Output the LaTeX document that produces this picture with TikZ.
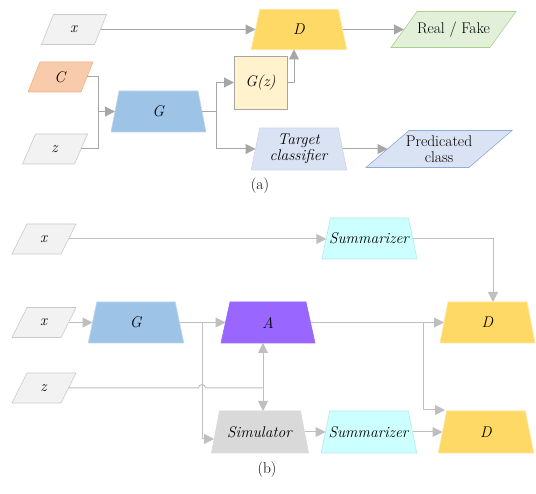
\documentclass[tikz,border=0pt]{standalone}
\usetikzlibrary{arrows.meta,calc}
\definecolor{lna}{HTML}{A6A6A6}
\definecolor{lnb}{HTML}{BFBFBF}
\definecolor{inpf}{HTML}{F2F2F2}
\definecolor{inpd}{HTML}{C8C8C8}
\definecolor{cf}{HTML}{F8CBAD}
\definecolor{cd}{HTML}{F4B183}
\definecolor{gf}{HTML}{9DC3E6}
\definecolor{gd}{HTML}{BDD7EE}
\definecolor{df}{HTML}{FFD966}
\definecolor{dd}{HTML}{FFE699}
\definecolor{gzf}{HTML}{FFF2CC}
\definecolor{rff}{HTML}{E2F0D9}
\definecolor{rfd}{HTML}{A9D18E}
\definecolor{tcf}{HTML}{DAE3F3}
\definecolor{tcd}{HTML}{C9D5EC}
\definecolor{pcd}{HTML}{8FAADC}
\definecolor{af}{HTML}{9966FF}
\definecolor{sumf}{HTML}{CCFFFF}
\definecolor{sumd}{HTML}{B8E8E8}
\definecolor{simf}{HTML}{D9D9D9}
\tikzset{
  base/.style={font=\rmfamily\fontsize{15.5}{16.5}\selectfont, inner sep=0pt, outer sep=0pt},
  shp/.style={line width=0.6pt},
  lnA/.style={draw=lna, line width=1pt},
  lnB/.style={draw=lnb, line width=1pt},
  arrA/.style={lnA, -{Triangle[length=10pt,width=10pt]}},
  arrB/.style={lnB, -{Triangle[length=10pt,width=10pt]}},
}
% #1 name, #2 centre x, #3 centre y, #4 mean width, #5 height, #6 half offset, #7 fill, #8 draw, #9 text
\newcommand\mytrap[9]{%
  \path[shp, fill=#7, draw=#8] ($(#2,#3)+(-#4/2-#6,#5/2)$) -- ($(#2,#3)+(-#4/2+#6,-#5/2)$)
    -- ($(#2,#3)+(#4/2-#6,-#5/2)$) -- ($(#2,#3)+(#4/2+#6,#5/2)$) -- cycle;
  \node[base, minimum width=#4pt, minimum height=#5pt, align=center] (#1) at (#2,#3) {#9};}
% #1 name, #2 centre x, #3 centre y, #4 edge width, #5 height, #6 half slant, #7 fill, #8 draw, #9 text
\newcommand\mypara[9]{%
  \path[shp, fill=#7, draw=#8] ($(#2,#3)+(-#4/2-#6,#5/2)$) -- ($(#2,#3)+(-#4/2+#6,-#5/2)$)
    -- ($(#2,#3)+(#4/2+#6,-#5/2)$) -- ($(#2,#3)+(#4/2-#6,#5/2)$) -- cycle;
  \node[base, minimum width=#4pt, minimum height=#5pt, align=center] (#1) at (#2,#3) {#9};}
\begin{document}
\begin{tikzpicture}[x=1pt,y=-1pt]
\useasboundingbox (0,0) rectangle (536,494);
% ---------- (a) ----------
\mypara{xa}{74}{29.5}{53}{30}{6}{inpf}{inpd}{\textit{x}}
\mypara{Ca}{60.5}{77}{53}{30}{6}{cf}{cd}{\textit{C}}
\mypara{za}{55}{149}{52}{30}{6.5}{inpf}{inpd}{\textit{z}}
\mytrap{Ga}{158.5}{111.5}{87}{41}{4}{gf}{gd}{\textit{G}}
\node[base, draw=lna, line width=0.8pt, fill=gzf, minimum width=53pt, minimum height=53pt] (Gz) at (260.5,82.5) {\textit{G(z)}};
\mytrap{Da}{299}{29.5}{87}{40}{4.25}{df}{dd}{\textit{D}}
\mypara{RF}{453.5}{29.5}{99}{36}{13}{rff}{rfd}{Real / Fake}
\mytrap{TC}{299}{149}{87}{42}{4.25}{tcf}{tcd}{\textit{Target}\\\textit{classifier}}
\mypara{PC}{439}{149}{103}{37}{21.5}{tcf}{pcd}{Predicated\\class}
\node[base] (la) at (260,186) {(a)};

\draw[arrA] (xa.east) -- (Da.west);
\coordinate (ja) at (98,111.5);
\draw[lnA] (Ca.east) -| (ja);
\draw[lnA] (za.east) -| (ja);
\draw[arrA] (ja) -- (Ga.west);
\coordinate (jb) at (216,111.5);
\draw[lnA] (Ga.east) -- (jb);
\draw[arrA] (jb) |- (Gz.west);
\draw[arrA] (jb) |- (TC.west);
\coordinate (jc) at (294,82.5);
\draw[arrA] (Gz.east) -- (jc) -- (jc |- Da.south);
\draw[arrA] (Da.east) -- (RF.west);
\draw[arrA] (TC.east) -- (PC.west);

% ---------- (b) ----------
\mypara{xb1}{44}{239}{49}{30}{7.5}{inpf}{inpd}{\textit{x}}
\mypara{xb2}{44}{322.5}{49}{30}{7.5}{inpf}{inpd}{\textit{x}}
\mypara{zb}{44}{388}{49}{30}{7.5}{inpf}{inpd}{\textit{z}}
\mytrap{S1}{369.5}{238.5}{86.5}{41}{4.25}{sumf}{sumd}{\textit{Summarizer}}
\mytrap{D1}{487.5}{322.5}{87}{41}{4}{df}{dd}{\textit{D}}
\mytrap{Gb}{136}{322.5}{87}{41}{4.25}{gf}{gd}{\textit{G}}
\mytrap{A}{268}{322.5}{85}{41}{4.5}{af}{af}{\textit{A}}
\mytrap{Sim}{260}{432}{89}{42}{4}{simf}{simf}{\textit{Simulator}}
\mytrap{S2}{369}{432}{87}{42}{4.25}{sumf}{sumd}{\textit{Summarizer}}
\mytrap{D2}{486}{432}{87}{42}{4.25}{df}{dd}{\textit{D}}
\node[base] (lb) at (267,470) {(b)};

\draw[arrB] (xb1.east) -- (xb1.east -| S1.west);
\coordinate (k1) at (493,238.5);
\draw[arrB] (S1.east) -- (k1) -- (k1 |- D1.north);
\draw[arrB] (xb2.east) -- (Gb.west);
\draw[arrB] (Gb.east) -- (A.west);
\coordinate (k2) at (202,322.5);
\coordinate (simin) at ($(Sim.west)+(-1.5,7)$);
\draw[arrB] (k2) |- (simin);
\draw[arrB] (A.east) -- (D1.west);
\coordinate (k3) at (423,322.5);
\coordinate (d2in) at ($(D2.north west)+(2.5,-1)$);
\draw[arrB] (k3) |- (d2in);
\draw[arrB] (Sim.east) -- (S2.west);
\draw[arrB] (S2.east) -- (D2.west);
\coordinate (kz) at (263,388);
\coordinate (hop) at (k2 |- kz);
\draw[lnB] (zb.east) -- ($(hop)+(-3.5,0)$) arc[start angle=180, end angle=0, radius=3.5pt] -- (kz);
\draw[arrB] (kz) -- (kz |- A.south);
\draw[arrB] (kz) -- (kz |- Sim.north);
\end{tikzpicture}
\end{document}
